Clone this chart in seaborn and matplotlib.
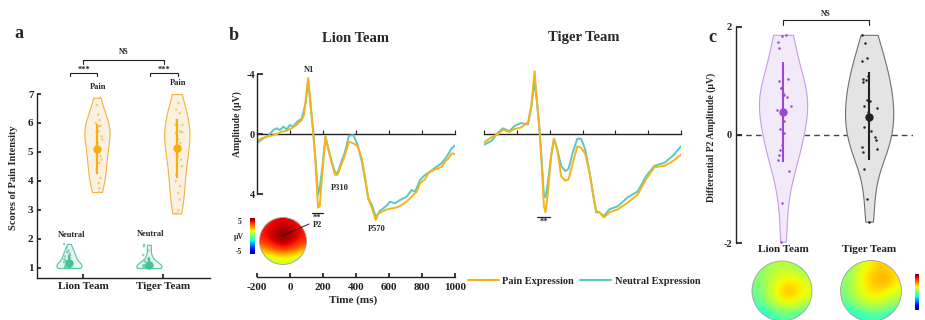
import numpy as np
import pandas as pd
import matplotlib
matplotlib.use("Agg")
import matplotlib.pyplot as plt
import seaborn as sns
from matplotlib.patches import Circle
from matplotlib.lines import Line2D
from matplotlib.cm import ScalarMappable
from matplotlib.colors import Normalize

# ---------------- data ----------------
teams = ["Lion Team", "Tiger Team"]
conditions = ["Neutral", "Pain"]

# panel a: pain-intensity scores
lion_pain_scores = [6.87, 6.62, 6.29, 6.10, 6.00, 5.90, 5.89, 5.77, 5.71, 5.66, 5.54, 5.43,
                    5.31, 5.10, 4.97, 4.85, 4.74, 4.62, 4.39, 4.28, 4.10, 3.93, 3.75, 3.62]
tiger_pain_scores = [7.00, 6.69, 6.46, 6.34, 6.11, 5.94, 5.94, 5.71, 5.68, 5.66, 5.43, 5.31,
                     5.14, 5.02, 4.85, 4.74, 4.51, 4.22, 3.99, 3.82, 3.59, 3.36, 2.99, 2.88]
lion_neutral_scores = [1.00, 1.00, 1.00, 1.00, 1.00, 1.00, 1.05, 1.05, 1.10, 1.10, 1.10, 1.15,
                       1.20, 1.20, 1.25, 1.30, 1.35, 1.40, 1.45, 1.50, 1.55, 1.60, 1.70, 1.83]
tiger_neutral_scores = [1.00, 1.00, 1.00, 1.00, 1.00, 1.00, 1.00, 1.00, 1.05, 1.05, 1.05, 1.10,
                        1.10, 1.10, 1.15, 1.15, 1.20, 1.25, 1.30, 1.35, 1.45, 1.60, 1.75, 1.80]
pain_mean = [5.10, 5.15]
pain_low = [4.25, 4.10]
pain_high = [5.95, 6.15]
neutral_mean = [1.18, 1.10]
neutral_low = [1.00, 1.00]
neutral_high = [1.45, 1.35]

# panel b: ERP waveforms (µV, positive plotted downward)
lion_pain_time = [-200, -172, -141, -111, -81, -50, -20, 10, 40, 71, 85, 95,
                  110, 125, 140, 155, 170, 180, 195, 215, 230, 250,
                  272, 288, 312, 333, 357, 384, 410, 435, 455, 475,
                  496, 520, 535, 576, 606, 626, 652, 677, 707, 737, 768, 788,
                  818, 838, 869, 899, 919, 939, 960, 980, 1000]
lion_pain_erp = [0.45, 0.27, 0.16, 0.09, 0.0, -0.18, -0.24, -0.4, -0.62, -0.95, -1.3, -2.2,
                 -3.75, -2.0, -0.2, 2.0, 4.9, 4.8, 2.7, 0.15, 0.9, 1.8,
                 2.7, 2.7, 2.0, 1.4, 0.5, 0.6, 0.8, 1.6, 2.9, 4.3,
                 4.9, 5.7, 5.3, 5.05, 4.95, 4.93, 4.85, 4.71, 4.49, 4.16, 3.83, 3.27,
                 3.0, 2.6, 2.38, 2.27, 2.16, 1.83, 1.6, 1.27, 1.3]
lion_neutral_time = [-200, -162, -131, -101, -81, -61, -40, -20, 0, 20, 40, 71, 95,
                     110, 125, 140, 155, 170, 180, 195, 215, 230, 250,
                     272, 288, 312, 333, 357, 384, 410, 435, 455, 475,
                     496, 520, 546, 566, 586, 606, 636, 667, 707, 737, 758, 788,
                     818, 848, 889, 919, 950, 980, 1000]
lion_neutral_erp = [0.6, 0.27, 0.09, -0.29, -0.4, -0.29, -0.51, -0.33, -0.62, -0.5, -0.8, -1.05, -2.1,
                    -3.6, -1.9, -0.3, 1.7, 4.05, 3.6, 2.3, 0.15, 0.85, 1.7,
                    2.5, 2.6, 1.8, 1.2, 0.1, 0.05, 0.7, 1.8, 3.0, 4.3,
                    4.7, 5.5, 5.1, 4.93, 4.75, 4.49, 4.6, 4.38, 4.16, 3.71, 3.83, 3.05,
                    2.71, 2.49, 2.16, 1.93, 1.49, 0.93, 0.75]
tiger_time = [-200, -155, -115, -85, -45, -15, 25, 68, 88, 108,
              124, 139, 153, 165, 175, 189, 209, 226, 246, 270,
              295, 315, 341, 368, 392, 416, 443, 463, 483, 503,
              530, 564, 615, 676, 737, 787, 838, 899, 949, 1000]
tiger_pain_erp = [0.55, 0.2, 0.0, -0.3, -0.15, -0.35, -0.45, -0.8, -1.9, -4.2,
                  -2.1, -0.1, 2.3, 4.8, 5.2, 3.9, 1.45, 0.3, 1.0, 2.8,
                  3.1, 3.0, 1.9, 0.8, 0.9, 1.3, 2.55, 3.9, 5.1, 5.2,
                  5.55, 5.2, 5.0, 4.55, 4.0, 3.0, 2.2, 2.1, 1.8, 1.35]
tiger_neutral_erp = [0.7, 0.45, -0.1, -0.4, -0.2, -0.55, -0.75, -0.65, -1.8, -3.55,
                     -2.0, -0.2, 2.0, 4.1, 4.2, 3.2, 1.45, 0.3, 1.0, 2.1,
                     2.45, 2.3, 1.2, 0.3, 0.3, 1.0, 2.55, 3.9, 5.2, 5.2,
                     5.45, 5.0, 4.8, 4.2, 3.8, 2.8, 2.1, 1.9, 1.45, 0.8]
time_ticks = [-200, 0, 200, 400, 600, 800, 1000]
amp_ticks = [-4, 0, 4]

# P2 scalp map (µV), rows front -> back
p2_topo = [[3.6, 4.0, 4.2, 4.0, 3.6],
           [3.9, 4.5, 4.9, 4.5, 3.9],
           [3.7, 4.4, 5.0, 4.4, 3.7],
           [2.3, 3.1, 3.4, 3.1, 2.3],
           [0.4, 0.9, 1.1, 0.9, 0.4]]

# panel c: differential P2 amplitude
lion_p2_diff = [1.85, 1.83, 1.72, 1.60, 1.03, 1.00, 0.86, 0.86, 0.78, 0.74, 0.71, 0.53,
                0.46, 0.40, 0.25, 0.12, 0.03, -0.18, -0.28, -0.37, -0.46, -0.66, -1.25, -1.97]
tiger_p2_diff = [1.85, 1.69, 1.42, 1.37, 1.09, 1.03, 1.01, 0.98, 0.65, 0.62, 0.54, 0.49,
                 0.43, 0.34, 0.15, 0.08, -0.04, -0.09, -0.22, -0.25, -0.31, -0.62, -1.19, -1.60]
p2_mean = [0.42, 0.34]
p2_low = [-0.49, -0.47]
p2_high = [1.34, 1.17]

lion_diff_topo = [[0.00, 0.10, 0.15, 0.10, 0.00],
                  [0.00, 0.15, 0.28, 0.32, 0.20],
                  [-0.05, 0.20, 0.40, 0.42, 0.28],
                  [-0.10, 0.10, 0.30, 0.30, 0.15],
                  [-0.30, -0.20, -0.10, -0.10, -0.20]]
tiger_diff_topo = [[0.00, 0.20, 0.32, 0.40, 0.28],
                   [0.05, 0.28, 0.40, 0.50, 0.35],
                   [0.00, 0.25, 0.35, 0.35, 0.25],
                   [-0.05, 0.15, 0.25, 0.20, 0.05],
                   [-0.30, -0.20, -0.15, -0.15, -0.25]]

# ---------------- style ----------------
sns.set_theme(style="ticks")
plt.rcParams["font.family"] = ["Liberation Serif", "DejaVu Serif"]
plt.rcParams["font.weight"] = "bold"
plt.rcParams["axes.labelweight"] = "bold"
plt.rcParams["axes.edgecolor"] = "#222222"
plt.rcParams["axes.linewidth"] = 1.0
plt.rcParams["xtick.color"] = "#222222"
plt.rcParams["ytick.color"] = "#222222"

W, H = 925, 320
fig = plt.figure(figsize=(W / 100, H / 100), dpi=100)


def rect(x0, y0, x1, y1):
    return [x0 / W, 1 - y1 / H, (x1 - x0) / W, (y1 - y0) / H]


def ftext(x, y, s, **kw):
    kw.setdefault("ha", "center")
    kw.setdefault("va", "center")
    kw.setdefault("weight", "bold")
    return fig.text(x / W, 1 - y / H, s, **kw)


fill_a = {"Neutral": "#E6F7F0", "Pain": "#FEF2DC"}
edge_a = {"Neutral": "#52C7A0", "Pain": "#F4B23E"}
dot_a = {"Neutral": "#62CBA8", "Pain": "#F3BE62"}
erp_colors = {"Pain Expression": "#F5B41A", "Neutral Expression": "#5DC7C0"}

# ---------------- panel a ----------------
df_a = pd.DataFrame({
    "team": (["Lion Team"] * len(lion_neutral_scores) + ["Tiger Team"] * len(tiger_neutral_scores)
             + ["Lion Team"] * len(lion_pain_scores) + ["Tiger Team"] * len(tiger_pain_scores)),
    "condition": (["Neutral"] * (len(lion_neutral_scores) + len(tiger_neutral_scores))
                  + ["Pain"] * (len(lion_pain_scores) + len(tiger_pain_scores))),
    "score": lion_neutral_scores + tiger_neutral_scores + lion_pain_scores + tiger_pain_scores,
})
axA = fig.add_axes(rect(37, 94, 210, 278))
for cond in conditions:
    sub = df_a[df_a["condition"] == cond]
    sns.violinplot(data=sub, x="team", y="score", hue="condition", order=teams, hue_order=conditions,
                   palette=fill_a, linecolor=edge_a[cond], linewidth=0.8, cut=0, inner=None,
                   density_norm="width", width=0.7, gap=0.1, dodge=True, legend=False, ax=axA)
sns.stripplot(data=df_a, x="team", y="score", hue="condition", order=teams, hue_order=conditions,
              palette=dot_a, dodge=True, jitter=0.09, size=1.8, alpha=0.8, legend=False, ax=axA)
offs = {"Neutral": -0.175, "Pain": 0.175}
for i in range(len(teams)):
    for cond, m, lo, hi, col in (("Pain", pain_mean[i], pain_low[i], pain_high[i], "#F7AE10"),
                                 ("Neutral", neutral_mean[i], neutral_low[i], neutral_high[i], "#45C396")):
        axA.errorbar(i + offs[cond], m, yerr=[[m - lo], [hi - m]], fmt="o", ms=5, color=col,
                     elinewidth=1.6, capsize=0, zorder=5)
axA.set_xlim(-0.575, 1.59)
axA.set_ylim(0.655, 7.0)
axA.set_xticks([0, 1], teams)
axA.set_yticks(range(1, 8))
axA.tick_params(axis="x", direction="in", length=3, labelsize=8, pad=3)
axA.tick_params(axis="y", direction="in", length=3, labelsize=8, pad=2.5)
axA.set_xlabel("")
axA.set_ylabel("")
sns.despine(ax=axA)
txt = dict(ha="center", va="center", weight="bold", clip_on=False)
axA.text(0.19, 7.24, "Pain", fontsize=6, **txt)
axA.text(1.19, 7.38, "Pain", fontsize=6, **txt)
axA.text(-0.14, 2.14, "Neutral", fontsize=6, **txt)
axA.text(0.85, 2.17, "Neutral", fontsize=6, **txt)
for x0, x1 in ((-0.16, 0.175), (0.84, 1.19)):
    axA.plot([x0, x0, x1, x1], [7.62, 7.73, 7.73, 7.62], color="#222222", lw=0.8, clip_on=False)
    axA.text((x0 + x1) / 2, 7.85, "***", fontsize=6, **txt)
axA.plot([0, 0, 1.02, 1.02], [8.03, 8.17, 8.17, 8.03], color="#222222", lw=0.8, clip_on=False)
axA.text(0.51, 8.45, "NS", fontsize=5.5, **txt)
ftext(14, 178, "Scores of Pain Intensity", rotation=90, fontsize=7.5)
ftext(19, 34, "a", fontsize=13)

# ---------------- panel b ----------------
ylo, yhi = 9.51, -4.95
zero_frac = (0 - ylo) / (yhi - ylo)


def erp_axes(x0, x1, pain_t, pain, neut_t, neut, left):
    ax = fig.add_axes(rect(x0, 60, x1, 277))
    df = pd.DataFrame({"time": neut_t + pain_t, "amp": neut + pain,
                       "cond": ["Neutral Expression"] * len(neut_t) + ["Pain Expression"] * len(pain_t)})
    sns.lineplot(data=df, x="time", y="amp", hue="cond",
                 hue_order=["Neutral Expression", "Pain Expression"], palette=erp_colors,
                 linewidth=1.4, estimator=None, legend=False, ax=ax)
    ax.set_xlim(-200, 1000)
    ax.set_ylim(ylo, yhi)
    ax.set_xlabel("")
    ax.set_ylabel("")
    ax.spines["top"].set_visible(False)
    ax.spines["right"].set_visible(False)
    sec = ax.secondary_xaxis(zero_frac)
    sec.set_xticks(time_ticks)
    sec.tick_params(direction="out", length=3, width=0.8, labeltop=False, labelbottom=False)
    sec.spines["top"].set_linewidth(1.0)
    if left:
        ax.spines["left"].set_bounds(-4, 4)
        ax.set_yticks(amp_ticks, ["-4", "0", "4"])
        ax.tick_params(axis="y", direction="in", length=4, labelsize=7.5, pad=1.5)
        ax.set_xticks(time_ticks, [str(t) for t in time_ticks])
        ax.tick_params(axis="x", direction="in", length=3, labelsize=8, pad=4)
    else:
        ax.spines["left"].set_visible(False)
        ax.spines["bottom"].set_visible(False)
        ax.set_yticks([])
        ax.set_xticks([])
    return ax


axL = erp_axes(257, 455, lion_pain_time, lion_pain_erp, lion_neutral_time, lion_neutral_erp, True)
axT = erp_axes(484, 681, tiger_time, tiger_pain_erp, tiger_time, tiger_neutral_erp, False)
bt = dict(ha="center", va="center", weight="bold", clip_on=False)
axL.text(115, -4.3, "N1", fontsize=6, **bt)
axL.text(303, 3.6, "P310", fontsize=6, **bt)
axL.text(527, 6.3, "P570", fontsize=6, **bt)
axL.plot([133, 200], [5.25, 5.25], color="#222222", lw=0.9)
axL.text(166, 5.55, "**", fontsize=6, **bt)
axL.text(166, 6.05, "P2", fontsize=6, **bt)
axT.plot([123, 202], [5.5, 5.5], color="#222222", lw=0.9)
axT.text(162, 5.8, "**", fontsize=6, **bt)
ftext(355, 39, "Lion Team", fontsize=10.5)
ftext(584, 38, "Tiger Team", fontsize=10.5)
ftext(237, 124, "Amplitude (µV)", rotation=90, fontsize=7)
ftext(353, 300, "Time (ms)", fontsize=8)
ftext(234, 35, "b", fontsize=13)

handles = [Line2D([], [], color=erp_colors["Pain Expression"], lw=1.5),
           Line2D([], [], color=erp_colors["Neutral Expression"], lw=1.5)]
fig.legend(handles, ["Pain Expression", "Neutral Expression"], ncol=2, loc="center",
           bbox_to_anchor=(584 / W, 1 - 281 / H), frameon=False, handlelength=3.0,
           handletextpad=0.3, columnspacing=0.6, prop={"weight": "bold", "size": 7.5})


def topo_axes(cx, cy, r, grid, vmin, vmax):
    pad = r * 0.08
    ax = fig.add_axes(rect(cx - r - pad, cy - r - pad, cx + r + pad, cy + r + pad))
    lim = 1 + pad / r
    img = ax.imshow(np.array(grid), extent=(-1, 1, -1, 1), cmap="jet", vmin=vmin, vmax=vmax,
                    interpolation="bicubic", origin="upper")
    circ = Circle((0, 0), 1, transform=ax.transData, facecolor="none", edgecolor="#a0a0a0", lw=0.6)
    ax.add_patch(circ)
    img.set_clip_path(circ)
    ax.set_xlim(-lim, lim)
    ax.set_ylim(-lim, lim)
    ax.axis("off")
    return ax


def colorbar_axes(x0, y0, x1, y1, vmin, vmax):
    cax = fig.add_axes(rect(x0, y0, x1, y1))
    cb = fig.colorbar(ScalarMappable(norm=Normalize(vmin, vmax), cmap="jet"), cax=cax)
    cb.set_ticks([])
    cb.outline.set_visible(False)
    return cax


topo_axes(283, 241, 23.5, p2_topo, -5, 5)
colorbar_axes(250, 218, 255, 254, -5, 5)
ftext(240, 222, "5", fontsize=5.5)
ftext(239, 237, "µV", fontsize=5.5)
ftext(239, 252, "-5", fontsize=5.5)
fig.add_artist(Line2D([282 / W, 309 / W], [1 - 236 / H, 1 - 224 / H], color="#222222", lw=0.7))

# ---------------- panel c ----------------
df_c = pd.DataFrame({"team": ["Lion Team"] * len(lion_p2_diff) + ["Tiger Team"] * len(tiger_p2_diff),
                     "amp": lion_p2_diff + tiger_p2_diff})
fill_c = {"Lion Team": "#F4E7FB", "Tiger Team": "#E4E4E4"}
edge_c = {"Lion Team": "#C89BE6", "Tiger Team": "#707070"}
dot_c = {"Lion Team": "#9A48D2", "Tiger Team": "#222222"}
axC = fig.add_axes(rect(736, 26.7, 913, 243.3))
for i, team in enumerate(teams):
    sub = df_c[df_c["team"] == team]
    sns.violinplot(data=sub, x="team", y="amp", order=teams, color=fill_c[team],
                   linecolor=edge_c[team], linewidth=0.8, cut=0, inner=None,
                   density_norm="width", width=0.56, ax=axC)
    sns.stripplot(data=sub, x="team", y="amp", order=teams, color=dot_c[team],
                  jitter=0.09, size=1.8, ax=axC)
    m = p2_mean[i]
    axC.errorbar(i, m, yerr=[[m - p2_low[i]], [p2_high[i] - m]], fmt="o", ms=5,
                 color=dot_c[team], elinewidth=1.5, capsize=0, zorder=5)
axC.axhline(0, color="#444444", lw=1.0, ls=(0, (4, 3)), zorder=0)
axC.set_xlim(-0.547, 1.51)
axC.set_ylim(-2, 2)
axC.set_yticks([-2, 0, 2], ["-2", "0", "2"])
axC.set_xticks([0, 1], teams)
axC.tick_params(axis="y", direction="in", length=4, labelsize=7.5, pad=3)
axC.tick_params(axis="x", length=0, labelsize=8, pad=1)
axC.set_xlabel("")
axC.set_ylabel("")
sns.despine(ax=axC, bottom=True)
axC.plot([0, 0, 1, 1], [2.04, 2.12, 2.12, 2.04], color="#222222", lw=0.8, clip_on=False)
axC.text(0.5, 2.24, "NS", fontsize=5.5, ha="center", va="center", weight="bold", clip_on=False)
ftext(711, 137, "Differential P2 Amplitude (µV)", rotation=90, fontsize=7)
ftext(712, 37, "c", fontsize=13)

topo_axes(782, 291, 30, lion_diff_topo, -1, 1)
topo_axes(871, 291, 30.5, tiger_diff_topo, -1, 1)
colorbar_axes(915, 274, 919, 310, -1, 1)

fig.savefig("out.png", dpi=100)
